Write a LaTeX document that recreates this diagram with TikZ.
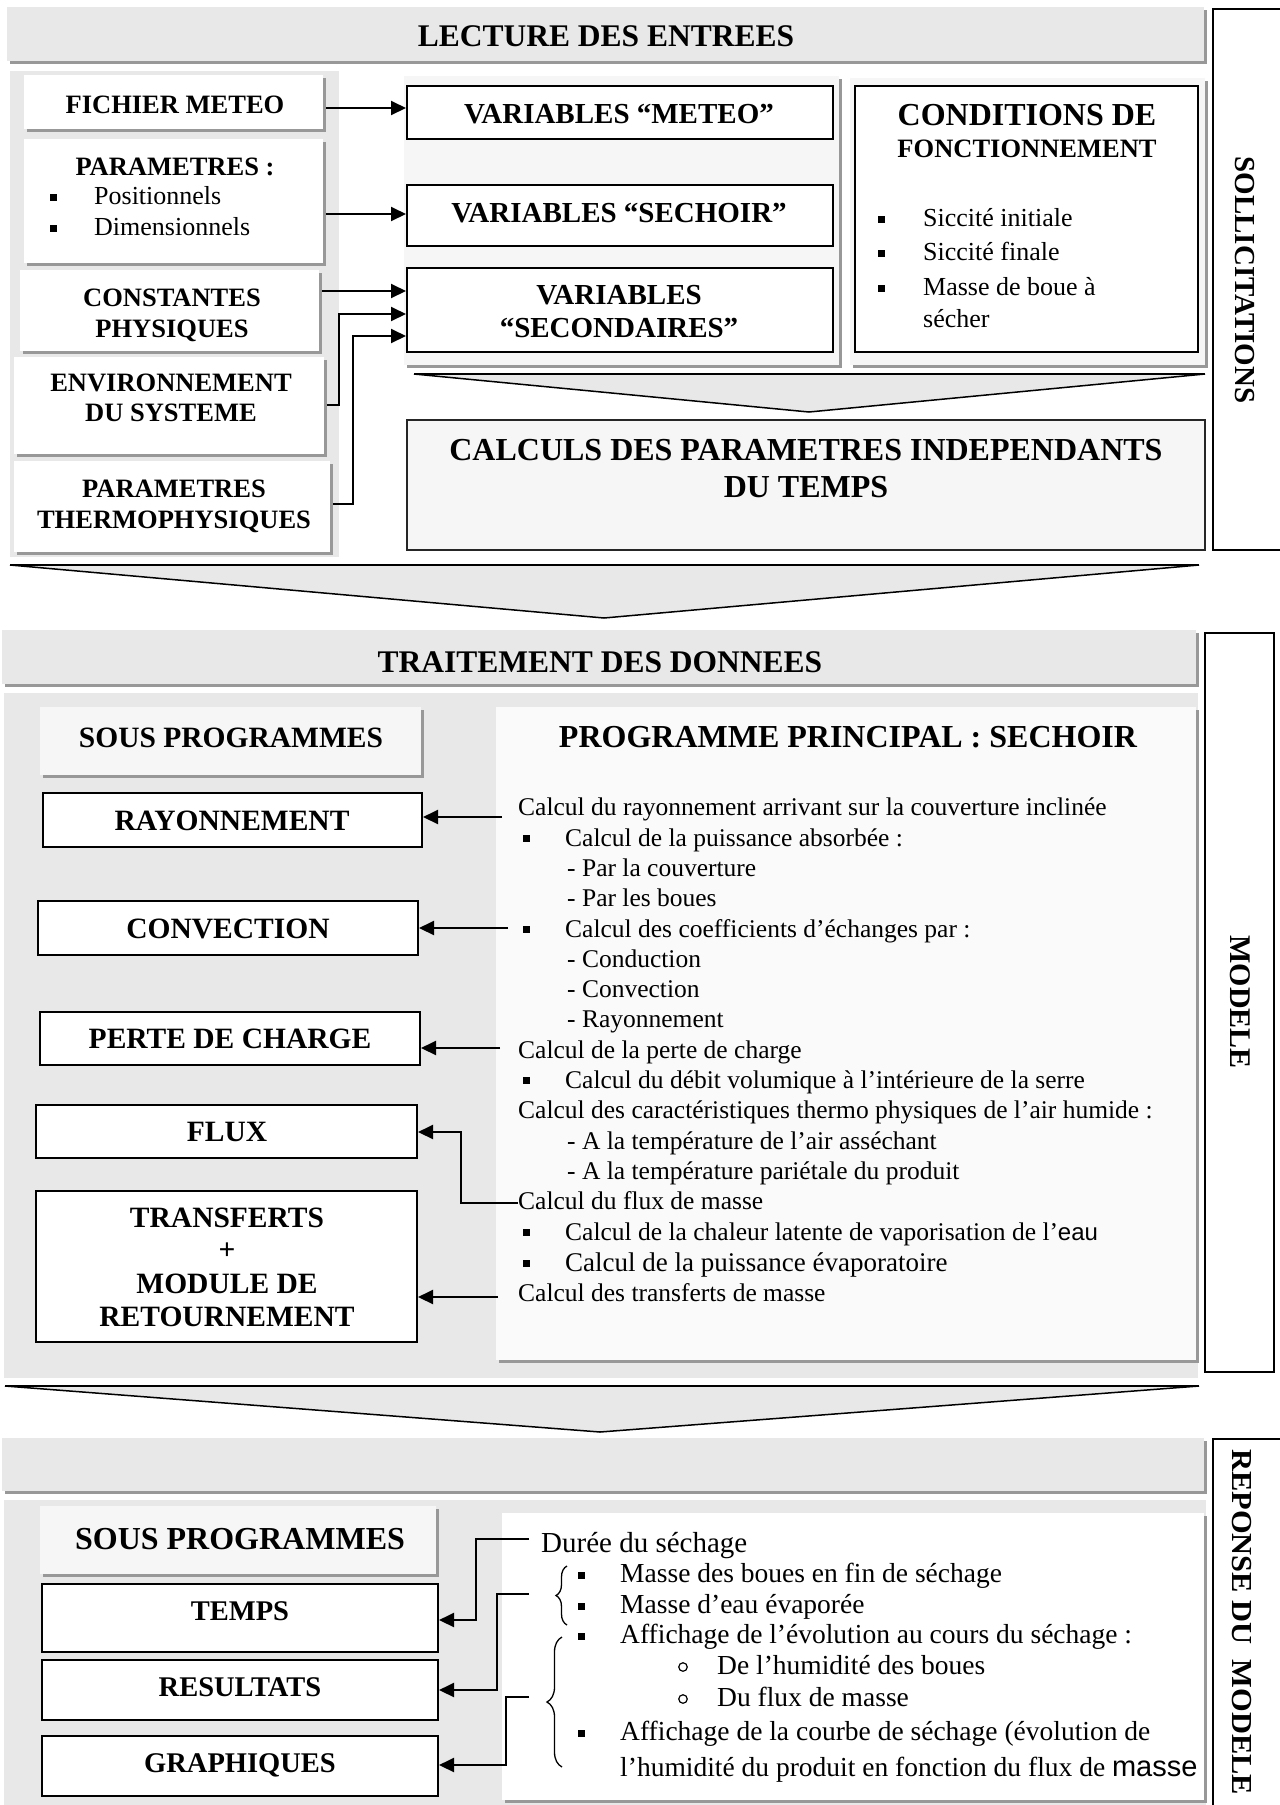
\documentclass[tikz,border=0pt]{standalone}
\usepackage{fontspec}
\setmainfont{Liberation Serif}
\newfontfamily\sansf{Liberation Sans}
\usetikzlibrary{arrows.meta,decorations.pathreplacing}
\definecolor{panelgray}{HTML}{E8E8E8}
\definecolor{lightpanel}{HTML}{F6F6F6}
\definecolor{shadowgray}{HTML}{989898}
\newcommand\fsz[1]{\fontsize{#1}{#1}\selectfont}
\newcommand\rbox[6]{\node[#6, minimum width={(#4)-(#2)}, minimum height={(#5)-(#3)}] (#1) at ({((#2)+(#4))/2},{((#3)+(#5))/2}) {};}
\tikzset{
  shad/.style={preaction={fill=shadowgray, transform canvas={shift={(3pt,-3pt)}}}},
  panel/.style={fill=panelgray, draw=none, inner sep=0pt},
  lpanel/.style={fill=lightpanel, draw=none, inner sep=0pt, shad},
  wbox/.style={fill=white, draw=none, inner sep=0pt, shad},
  bbox/.style={fill=white, draw=black, line width=2pt, inner sep=0pt},
  tbar/.style={fill=panelgray, draw=none, inner sep=0pt, shad},
  hd/.style={font=\bfseries\fsz{#1}, anchor=base, inner sep=0pt},
  hd/.default=26.5,
  bt/.style={font=\fsz{#1}, anchor=base west, inner sep=0pt},
  bt/.default=25.5,
  sq/.style={fill=black, minimum size=7pt, inner sep=0pt},
  circ/.style={draw=black, line width=1.2pt, circle, minimum size=8.5pt, inner sep=0pt},
  vlab/.style={rotate=-90, font=\bfseries\fsz{#1}, inner sep=0pt},
  conn/.style={line width=2pt, -{Triangle[length=15pt,width=14pt]}},
  chev/.style={line width=1.5pt},
  chevtop/.style={line width=2.5pt},
  brc/.style={line width=1.3pt, decorate, decoration={brace, amplitude=#1}},
}
\begin{document}
\begin{tikzpicture}[x=1pt, y=-1pt]
\useasboundingbox (0,0) rectangle (1280,1805);
\clip (0,0) rectangle (1280,1805);
\fill[white] (0,0) rectangle (1280,1805);

% ===================== SECTION 1 =====================
\rbox{bar1}{7}{7}{1204}{61}{tbar}
\node[hd=31.5] (t1) at (606,46) {LECTURE DES ENTREES};
\rbox{soll}{1213}{9}{1282}{550}{bbox}
\node[vlab=29] (solltxt) at (1245,280) {SOLLICITATIONS};

\rbox{leftp}{10}{71}{339}{557}{panel}
\rbox{midp}{404}{76}{839}{365}{lpanel}
\rbox{rightp}{850}{78}{1205}{365}{lpanel}

\rbox{fich}{24}{75}{323}{129}{wbox}
\node[hd] (fichtxt) at (175,113) {FICHIER METEO};
\rbox{param}{24}{139}{323}{263}{wbox}
\node[hd] (paramtxt) at (175,175) {PARAMETRES :};
\node[sq] (pb1) at (53,197) {};
\node[bt=26] (pt1) at (94,204) {Positionnels};
\node[sq] (pb2) at (53,228) {};
\node[bt=26] (pt2) at (94,235) {Dimensionnels};
\rbox{cst}{20}{270}{319}{351}{wbox}
\node[hd] (cst1) at (172,306) {CONSTANTES};
\node[hd] (cst2) at (172,337) {PHYSIQUES};
\rbox{env}{14}{357}{324}{454}{wbox}
\node[hd] (env1) at (171,391) {ENVIRONNEMENT};
\node[hd] (env2) at (171,421) {DU SYSTEME};
\rbox{thm}{14}{461}{330}{552}{wbox}
\node[hd] (thm1) at (174,497) {PARAMETRES};
\node[hd] (thm2) at (174,528) {THERMOPHYSIQUES};

\rbox{vmet}{407}{86}{833}{139}{bbox}
\node[hd=29] (vmettxt) at (619,123) {VARIABLES “METEO”};
\rbox{vsech}{407}{185}{833}{246}{bbox}
\node[hd=29] (vsechtxt) at (619,222) {VARIABLES “SECHOIR”};
\rbox{vsec}{407}{268}{833}{352}{bbox}
\node[hd=29] (vsec1) at (619,304) {VARIABLES};
\node[hd=29] (vsec2) at (619,337) {“SECONDAIRES”};

\rbox{cond}{855}{86}{1198}{352}{bbox}
\node[hd=32] (cond1) at (1027,125) {CONDITIONS DE};
\node[hd] (cond2) at (1027,157) {FONCTIONNEMENT};
\node[sq] (cb1) at (881,219) {};
\node[bt=26] (ct1) at (923,226) {Siccité initiale};
\node[sq] (cb2) at (881,253) {};
\node[bt=26] (ct2) at (923,260) {Siccité finale};
\node[sq] (cb3) at (881,288) {};
\node[bt=26] (ct3) at (923,295) {Masse de boue à};
\node[bt=26] (ct4) at (923,327) {sécher};

\coordinate (s1) at (326,108);
\coordinate (s2) at (326,214);
\coordinate (s3) at (322,291);
\coordinate (s4) at (327,405);
\coordinate (k4) at (339,314);
\coordinate (s5) at (333,504);
\coordinate (k5) at (353,336);
\draw[conn] (s1) -- (s1 -| vmet.west);
\draw[conn] (s2) -- (s2 -| vsech.west);
\draw[conn] (s3) -- (s3 -| vsec.west);
\draw[conn] (s4) -| (k4) -- (k4 -| vsec.west);
\draw[conn] (s5) -| (k5) -- (k5 -| vsec.west);

% small chevron
\fill[panelgray] (414,374) -- (1205,374) -- (809,412) -- cycle;
\draw[chev] (414,374) -- (809,412) -- (1205,374);
\draw[chevtop] (414,374) -- (1205,374);

\rbox{calc}{407}{420}{1205}{550}{fill=lightpanel, draw=black!85, line width=1.2pt, inner sep=0pt}
\node[hd=32] (calc1) at (806,460) {CALCULS DES PARAMETRES INDEPENDANTS};
\node[hd=32] (calc2) at (806,497) {DU TEMPS};

% big chevron 1
\fill[panelgray] (10,565) -- (1199,565) -- (604,618) -- cycle;
\draw[chev] (10,565) -- (604,618) -- (1199,565);
\draw[chevtop] (10,565) -- (1199,565);

% ===================== SECTION 2 =====================
\rbox{bar2}{2}{630}{1196}{684}{tbar}
\node[hd=31.5] (t2) at (600,672) {TRAITEMENT DES DONNEES};
\rbox{mod}{1205}{633}{1274}{1372}{bbox}
\node[vlab=30] (modtxt) at (1240,1002) {MODELE};

\rbox{gp2}{4}{693}{1198}{1378}{panel}
\rbox{sp2}{40}{707}{421}{775}{lpanel}
\node[hd=29.5] (sp2txt) at (231,747) {SOUS PROGRAMMES};
\rbox{pp}{496}{707}{1196}{1360}{fill=white!40!lightpanel, draw=none, inner sep=0pt, shad}
\node[hd=32] (pptxt) at (848,747) {PROGRAMME PRINCIPAL : SECHOIR};

\rbox{ray}{43}{793}{422}{847}{bbox}
\node[hd=29.5] (raytxt) at (232,830) {RAYONNEMENT};
\rbox{conv}{38}{901}{418}{955}{bbox}
\node[hd=29.5] (convtxt) at (228,938) {CONVECTION};
\rbox{perte}{40}{1012}{420}{1065}{bbox}
\node[hd=29.5] (pertetxt) at (230,1048) {PERTE DE CHARGE};
\rbox{flux}{36}{1105}{417}{1158}{bbox}
\node[hd=29.5] (fluxtxt) at (227,1141) {FLUX};
\rbox{trans}{36}{1191}{417}{1342}{bbox}
\node[hd=29.5] (tr1) at (227,1227) {TRANSFERTS};
\node[hd=29.5] (tr2) at (227,1259) {+};
\node[hd=29.5] (tr3) at (227,1293) {MODULE DE};
\node[hd=29.5] (tr4) at (227,1326) {RETOURNEMENT};

\node[bt] (l1) at (518,815) {Calcul du rayonnement arrivant sur la couverture inclinée};
\node[sq] (b2) at (526,838) {};
\node[bt] (l2) at (565,846) {Calcul de la puissance absorbée :};
\node[bt] (l3) at (567,876) {- Par la couverture};
\node[bt] (l4) at (567,906) {- Par les boues};
\node[sq] (b5) at (526,929) {};
\node[bt] (l5) at (565,937) {Calcul des coefficients d’échanges par :};
\node[bt] (l6) at (567,967) {- Conduction};
\node[bt] (l7) at (567,997) {- Convection};
\node[bt] (l8) at (567,1027) {- Rayonnement};
\node[bt] (l9) at (518,1058) {Calcul de la perte de charge};
\node[sq] (b10) at (526,1080) {};
\node[bt] (l10) at (565,1088) {Calcul du débit volumique à l’intérieure de la serre};
\node[bt] (l11) at (518,1118) {Calcul des caractéristiques thermo physiques de l’air humide :};
\node[bt] (l12) at (567,1149) {- A la température de l’air asséchant};
\node[bt] (l13) at (567,1179) {- A la température pariétale du produit};
\node[bt] (l14) at (518,1209) {Calcul du flux de masse};
\node[sq] (b15) at (526,1232) {};
\node[bt] (l15) at (565,1240) {Calcul de la chaleur latente de vaporisation de l’{\sansf\fsz{24}eau}};
\node[sq] (b16) at (526,1263) {};
\node[bt=27] (l16) at (565,1271) {Calcul de la puissance évaporatoire};
\node[bt] (l17) at (518,1301) {Calcul des transferts de masse};

\coordinate (a1) at (502,817);
\coordinate (a2) at (508,928);
\coordinate (a3) at (500,1048);
\coordinate (a4) at (518,1203);
\coordinate (k6) at (461,1132);
\coordinate (a5) at (498,1297);
\draw[conn] (a1) -- (a1 -| ray.east);
\draw[conn] (a2) -- (a2 -| conv.east);
\draw[conn] (a3) -- (a3 -| perte.east);
\draw[conn] (a4) -| (k6) -- (k6 -| flux.east);
\draw[conn] (a5) -- (a5 -| trans.east);

% big chevron 2
\fill[panelgray] (5,1386) -- (1199,1386) -- (600,1432) -- cycle;
\draw[chev] (5,1386) -- (600,1432) -- (1199,1386);
\draw[chevtop] (5,1386) -- (1199,1386);

% ===================== SECTION 3 =====================
\rbox{bar3}{2}{1438}{1204}{1491}{tbar}
\rbox{rep}{1213}{1439}{1282}{1812}{bbox}
\node[vlab=29, anchor=west] (reptxt) at (1242,1449) {\scalebox{1.05}[1]{REPONSE DU\ \ MODELE}};

\rbox{gp3}{4}{1500}{1206}{1812}{panel}
\rbox{sp3}{40}{1506}{436}{1574}{lpanel}
\node[hd=32] (sp3txt) at (240,1549) {SOUS PROGRAMMES};
\rbox{tp}{502}{1513}{1204}{1800}{wbox}

\rbox{temps}{42}{1584}{438}{1652}{bbox}
\node[hd=28.5] (tempstxt) at (240,1620) {TEMPS};
\rbox{res}{42}{1660}{438}{1720}{bbox}
\node[hd=28.5] (restxt) at (240,1696) {RESULTATS};
\rbox{graph}{42}{1736}{438}{1796}{bbox}
\node[hd=28.5] (graphtxt) at (240,1772) {GRAPHIQUES};

\node[bt=29] (r1) at (541,1552) {Durée du séchage};
\node[sq] (rb2) at (581,1575) {};
\node[bt=27.5] (r2) at (620,1582) {Masse des boues en fin de séchage};
\node[sq] (rb3) at (581,1606) {};
\node[bt=27.5] (r3) at (620,1613) {Masse d’eau évaporée};
\node[sq] (rb4) at (581,1636) {};
\node[bt=27.5] (r4) at (620,1643) {Affichage de l’évolution au cours du séchage :};
\node[circ] (rc5) at (683,1667) {};
\node[bt=27.5] (r5) at (717,1674) {De l’humidité des boues};
\node[circ] (rc6) at (683,1699) {};
\node[bt=27.5] (r6) at (717,1706) {Du flux de masse};
\node[sq] (rb7) at (581,1733) {};
\node[bt=27.5] (r7) at (620,1740) {Affichage de la courbe de séchage (évolution de};
\node[bt=27.5] (r8) at (620,1776) {l’humidité du produit en fonction du flux de {\sansf\fsz{29}masse}};

\draw[brc=11pt] (567,1625) -- (567,1566);
\draw[brc=15pt] (562,1767) -- (562,1637);

\coordinate (c1) at (529,1539);
\coordinate (m1) at (476,1620);
\coordinate (c2) at (529,1594);
\coordinate (m2) at (497,1690);
\coordinate (c3) at (529,1697);
\coordinate (m3) at (506,1765);
\draw[conn] (c1) -| (m1) -- (m1 -| temps.east);
\draw[conn] (c2) -| (m2) -- (m2 -| res.east);
\draw[conn] (c3) -| (m3) -- (m3 -| graph.east);
\end{tikzpicture}
\end{document}
